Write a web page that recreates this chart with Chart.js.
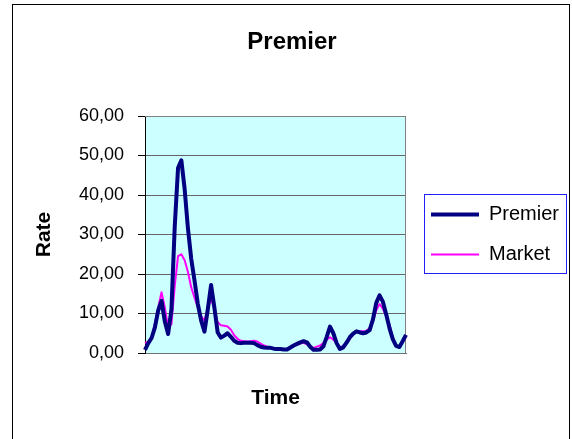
<!DOCTYPE html>
<html>
<head>
<meta charset="utf-8">
<script src="https://cdn.jsdelivr.net/npm/chart.js@4/dist/chart.umd.min.js"></script>
<style>
  html, body { margin: 0; padding: 0; background: #fff; }
  canvas { display: block; }
</style>
</head>
<body>
<canvas id="rateChart" width="572" height="439"></canvas>
<script>
// time periods (the x axis shows no labels)
const periods = [
  '1','2','3','4','5','6','7','8','9','10','11','12','13','14','15','16','17','18','19','20',
  '21','22','23','24','25','26','27','28','29','30','31','32','33','34','35','36','37','38','39','40',
  '41','42','43','44','45','46','47','48','49','50','51','52','53','54','55','56','57','58','59','60',
  '61','62','63','64','65','66','67','68','69','70','71','72','73','74','75','76','77','78','79','80'
];

const premier = [
  0.8, 2.5, 3.8, 6.5, 10.8, 13.2, 8.0, 4.8, 11.0, 32.0,
  46.8, 48.8, 41.5, 31.5, 23.8, 18.3, 12.4, 8.2, 5.4, 11.0,
  17.2, 11.5, 5.2, 3.9, 4.4, 5.0, 4.1, 3.1, 2.6, 2.5,
  2.6, 2.6, 2.6, 2.5, 2.0, 1.6, 1.4, 1.3, 1.3, 1.1,
  1.0, 1.0, 0.9, 0.9, 1.4, 1.9, 2.3, 2.7, 3.0, 2.7,
  1.6, 0.8, 0.8, 0.9, 1.7, 4.1, 6.7, 5.0, 2.5, 1.0,
  1.4, 2.6, 4.0, 4.9, 5.5, 5.2, 5.0, 5.2, 5.8, 8.5,
  12.7, 14.6, 13.0, 9.8, 6.3, 3.5, 1.8, 1.5, 3.0, 4.6
];

const market = [
  2.5, 2.9, 4.0, 7.5, 11.5, 15.4, 11.5, 6.5, 7.3, 17.0,
  24.5, 25.0, 23.5, 20.5, 16.6, 14.0, 11.5, 9.3, 8.2, 11.2,
  13.8, 11.0, 7.8, 7.0, 6.9, 6.7, 5.9, 4.5, 3.6, 3.1,
  3.0, 2.9, 3.0, 3.1, 2.9, 2.4, 1.9, 1.6, 1.3, 1.2,
  1.1, 1.0, 0.9, 0.8, 1.2, 1.7, 2.1, 2.4, 2.6, 2.2,
  1.6, 1.3, 1.6, 1.9, 2.5, 3.4, 4.0, 3.4, 2.5, 1.5,
  1.8, 2.5, 3.6, 4.6, 5.4, 5.5, 5.5, 5.6, 6.3, 8.0,
  10.8, 12.4, 11.2, 9.3, 7.3, 3.8, 1.8, 1.4, 2.7, 4.1
];

const yTicks = [0, 10, 20, 30, 40, 50, 60];

const FONT = "'Liberation Sans', Arial, sans-serif";
const LEGEND_WIDTH = 158;

// white page, outer frame, cyan plot area with gray edge, blue box round the legend
const chartFrame = {
  id: 'chartFrame',
  afterInit(chart) {
    // the legend under-measures the wide line sample, so give it a fixed width
    const lg = chart.legend;
    if (lg) {
      const baseFit = lg.fit;
      lg.fit = function () {
        baseFit.call(this);
        this.width = LEGEND_WIDTH;
      };
    }
  },
  afterLayout(chart) {
    const lg = chart.legend;
    const a = chart.chartArea;
    if (!lg) return;
    lg.left = a.right + 5;
    lg.right = lg.left + LEGEND_WIDTH;
    lg.top = a.top;
    lg.bottom = a.bottom;
    lg.height = a.bottom - a.top;
  },
  beforeDraw(chart) {
    const { ctx, chartArea: a } = chart;
    ctx.save();
    ctx.fillStyle = '#ffffff';
    ctx.fillRect(0, 0, chart.width, chart.height);
    ctx.fillStyle = '#ccffff';
    ctx.fillRect(a.left, a.top, a.right - a.left, a.bottom - a.top);
    ctx.strokeStyle = '#000';
    ctx.lineWidth = 1;
    ctx.strokeRect(12.5, 4.5, 557, 440);
    ctx.restore();
  },
  beforeDatasetsDraw(chart) {
    const { ctx, chartArea: a } = chart;
    ctx.save();
    ctx.strokeStyle = '#808080';
    ctx.lineWidth = 1;
    ctx.beginPath();
    ctx.moveTo(a.left, a.top + 0.5);
    ctx.lineTo(a.right - 0.5, a.top + 0.5);
    ctx.lineTo(a.right - 0.5, a.bottom);
    ctx.stroke();
    ctx.restore();
  },
  afterDraw(chart) {
    const lg = chart.legend;
    if (!lg || !lg.legendHitBoxes || !lg.legendHitBoxes.length) return;
    const first = lg.legendHitBoxes[0];
    const last = lg.legendHitBoxes[lg.legendHitBoxes.length - 1];
    const ctx = chart.ctx;
    const x0 = Math.round(first.left) - 6.5;
    const y0 = Math.round(first.top) - 10.5;
    const x1 = Math.round(first.left) + 135.5;
    const y1 = Math.round(last.top + last.height) + 8.5;
    ctx.save();
    ctx.strokeStyle = '#2020ff';
    ctx.lineWidth = 1;
    ctx.strokeRect(x0, y0, x1 - x0, y1 - y0);
    ctx.restore();
  }
};

const ctx = document.getElementById('rateChart').getContext('2d');
const rateChart = new Chart(ctx, {
  type: 'line',
  data: {
    labels: periods,
    datasets: [
      {
        label: 'Premier',
        data: premier,
        borderColor: '#000080',
        backgroundColor: '#000080',
        borderWidth: 4,
        borderJoinStyle: 'round',
        pointRadius: 0,
        tension: 0,
        fill: false
      },
      {
        label: 'Market',
        data: market,
        borderColor: '#ff00ff',
        backgroundColor: '#ff00ff',
        borderWidth: 2,
        borderJoinStyle: 'round',
        pointRadius: 0,
        tension: 0,
        fill: false
      }
    ]
  },
  options: {
    responsive: false,
    animation: false,
    devicePixelRatio: 1,
    layout: {
      padding: { left: 20, right: 8, top: 6, bottom: 28 }
    },
    scales: {
      x: {
        type: 'category',
        offset: false,
        grid: { display: false },
        border: { color: '#707070', width: 1 },
        ticks: { display: false },
        title: {
          display: true,
          text: 'Time',
          color: '#000',
          font: { family: FONT, size: 21, weight: 'bold' },
          padding: { top: 0, bottom: 0 }
        },
        afterFit(scale) { scale.height = 58; }
      },
      y: {
        min: 0,
        max: 60,
        afterBuildTicks(scale) {
          scale.ticks = yTicks.map(v => ({ value: v }));
        },
        grid: {
          color: '#666666',
          lineWidth: 1,
          drawTicks: true,
          tickLength: 7,
          tickColor: '#000'
        },
        border: { color: '#000', width: 1 },
        ticks: {
          color: '#000',
          padding: 14,
          font: { family: FONT, size: 18 },
          callback: v => v.toFixed(2).replace('.', ',')
        },
        title: {
          display: true,
          text: 'Rate',
          color: '#000',
          font: { family: FONT, size: 21, weight: 'bold' },
          padding: { top: 12, bottom: 0 }
        },
        afterFit(scale) { scale.width = 125; }
      }
    },
    plugins: {
      title: {
        display: true,
        text: 'Premier',
        color: '#000',
        font: { family: FONT, size: 24, weight: 'bold' },
        padding: { top: 21.6, bottom: 59.6 }
      },
      legend: {
        position: 'right',
        align: 'center',
        labels: {
          color: '#000',
          font: { family: FONT, size: 20 },
          usePointStyle: true,
          pointStyle: 'line',
          pointStyleWidth: 48,
          boxWidth: 48,
          padding: 20
        }
      },
      tooltip: { enabled: false }
    }
  },
  plugins: [chartFrame]
});
</script>
</body>
</html>
